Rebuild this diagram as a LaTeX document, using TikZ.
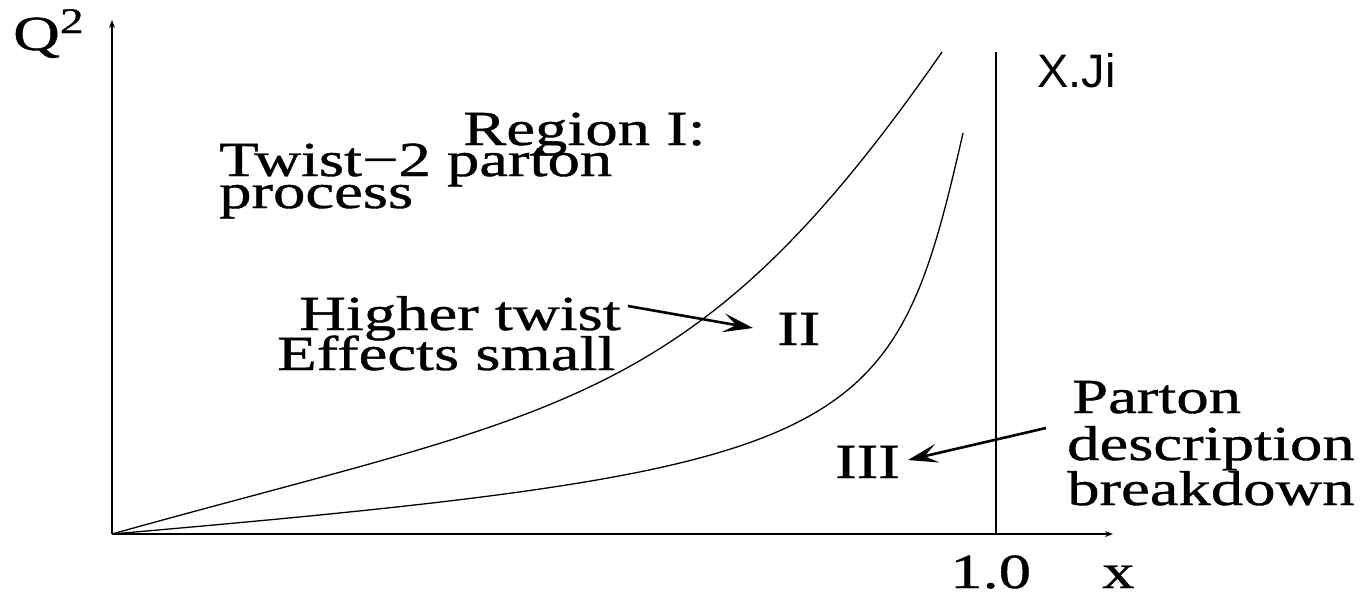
\documentclass[tikz,border=0pt]{standalone}
\usepackage{fontspec}
\usetikzlibrary{arrows.meta}
\newfontfamily\stretchserif[FakeStretch=1.32,FakeBold=0.8]{Liberation Serif}
\newfontfamily\plainsans{Liberation Sans}
\begin{document}
\begin{tikzpicture}[x=1pt,y=-1pt,
  lbl/.style={inner sep=0pt,anchor=base west,font=\stretchserif\fontsize{49}{40}\selectfont},
  axis/.style={line width=1.8pt,-{Stealth[length=8pt,width=6pt]}},
  curve/.style={line width=1.3pt},
  pointer/.style={line width=2.6pt,-{Stealth[length=30pt,width=19pt,inset=13pt]}}]
\useasboundingbox (0,0) rectangle (1367,595);
% axes
\coordinate (O) at (112,534);
\coordinate (ytop) at (112,20);
\coordinate (xend) at (1113,534);
\draw[axis] (O) -- (ytop);
\draw[axis] (O) -- (xend);
% x = 1 line
\coordinate (vtop) at (996,52);
\coordinate (vbot) at (996,534);
\draw[line width=1.8pt] (vtop) -- (vbot);
% curves
\coordinate (c1e) at (942,52);
\coordinate (c2e) at (963,133);
\draw[curve] (O) .. controls (563,408) and (692,412) .. (c1e);
\draw[curve] (O) .. controls (863,469) and (893,441) .. (c2e);
% labels
\node[lbl] (q) at (13,50) {Q\raisebox{17pt}{\fontsize{36}{36}\selectfont 2}};
\node[lbl] (r1) at (463,145) {Region I:};
\node[lbl] (r2) at (219,176) {Twist−2 parton};
\node[lbl] (r3) at (219,208) {process};
\node[lbl] (h1) at (299,330) {Higher twist};
\node[lbl] (h2) at (277,370) {Effects small};
\node[lbl] (ii) at (777,345) {II};
\node[lbl] (iii) at (835,478) {III};
\node[lbl] (p1) at (1072,413) {Parton};
\node[lbl] (p2) at (1067,460) {description};
\node[lbl] (p3) at (1067,505) {breakdown};
\node[lbl] (one) at (950,588) {1.0};
\node[lbl] (xl) at (1102,588) {x};
\node[inner sep=0pt,anchor=base west,font=\plainsans\fontsize{47}{47}\selectfont] (ji) at (1037,87) {X.Ji};
% pointers
\coordinate (a1s) at (628,306);
\coordinate (a1e) at (753,328);
\coordinate (a2s) at (1046,428);
\coordinate (a2e) at (908,460);
\draw[pointer] (a1s) -- (a1e);
\draw[pointer] (a2s) -- (a2e);
\end{tikzpicture}
\end{document}
